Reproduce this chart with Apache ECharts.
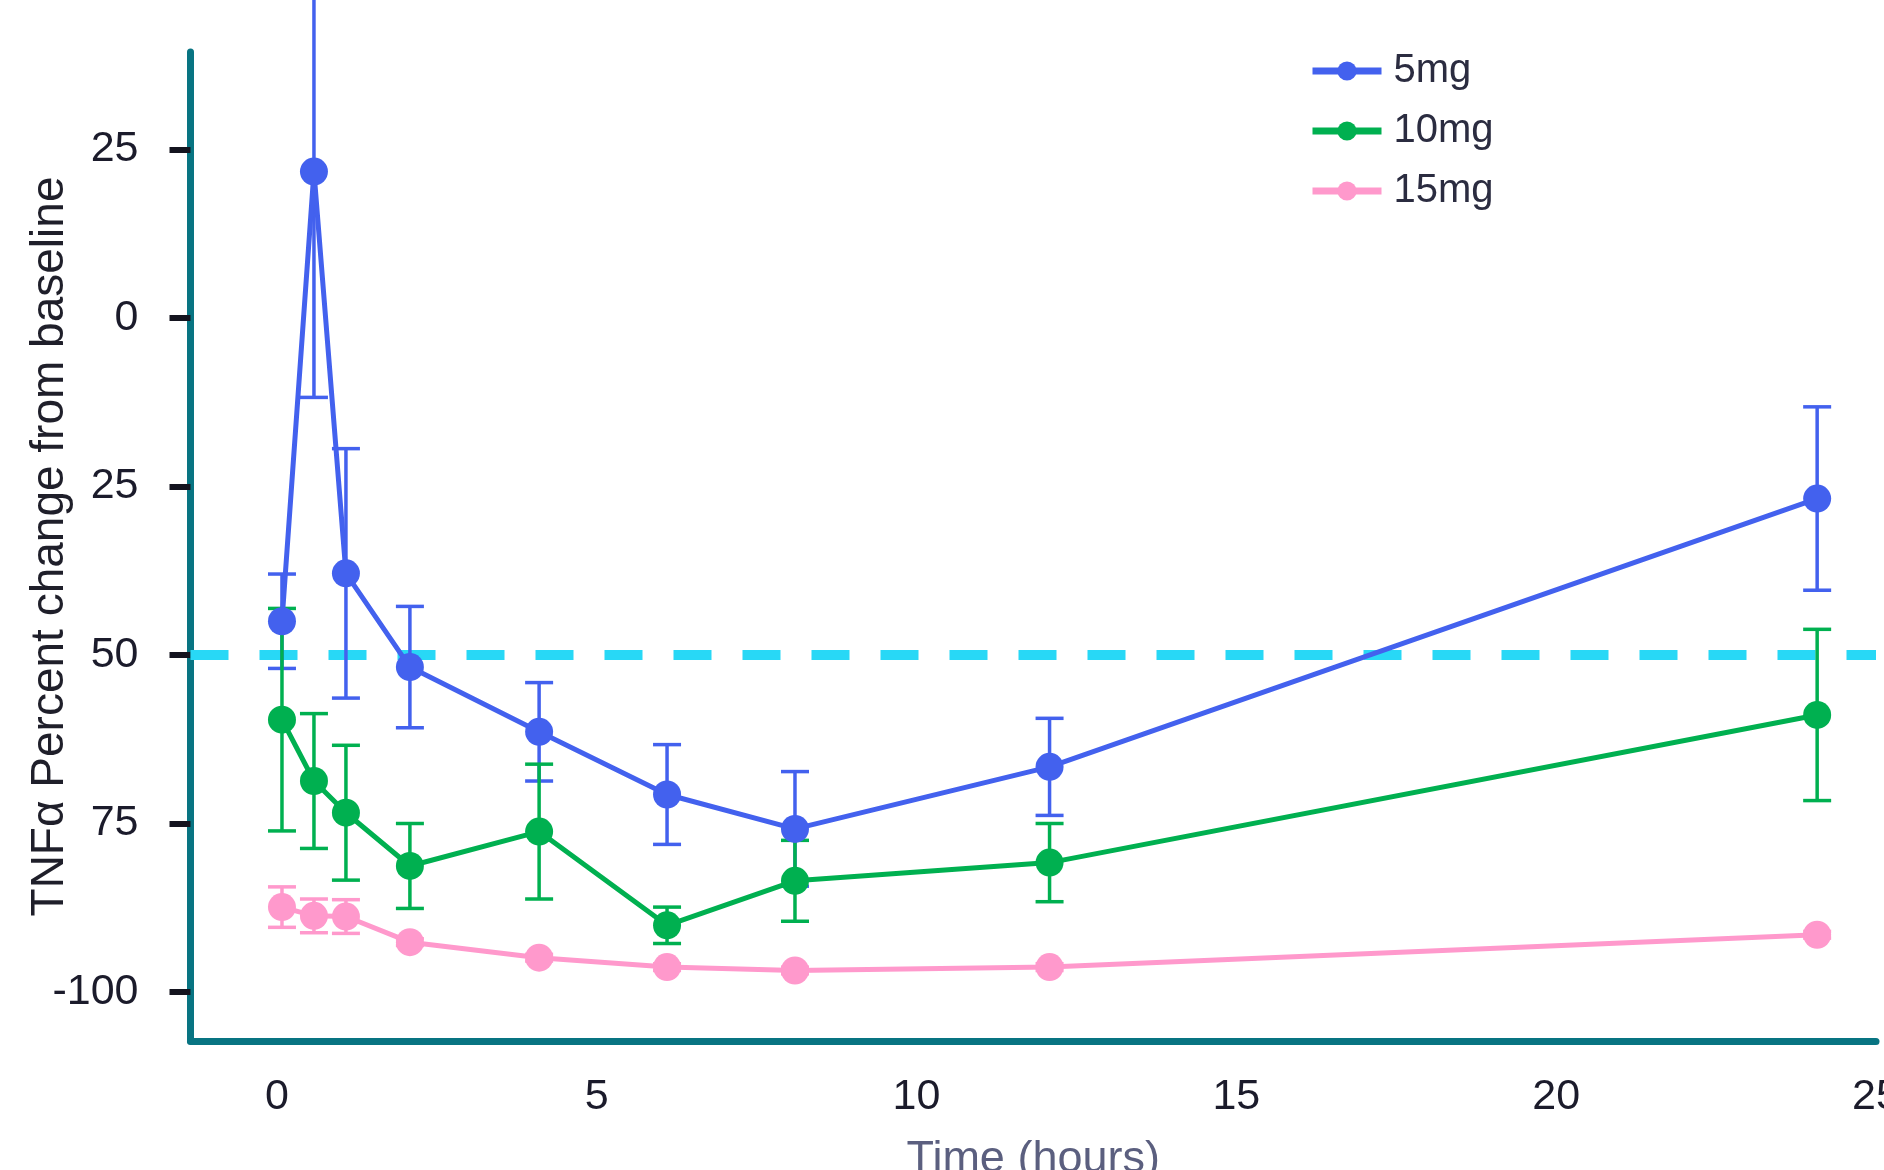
<!DOCTYPE html>
<html><head><meta charset="utf-8">
<script src="https://cdn.jsdelivr.net/npm/echarts@6/dist/echarts.min.js"></script>
<style>html,body{margin:0;padding:0;background:#fff}#chart{width:1884px;height:1170px}</style>
</head><body><div id="chart"></div>
<script>
// ---- data ----
const timesHours = [0.08, 0.58, 1.08, 2.08, 4.1, 6.1, 8.1, 12.08, 24.08];
const seriesNames = ['5mg', '10mg', '15mg'];
const mean5mg  = [-45.0, 21.7, -37.9, -51.8, -61.4, -70.7, -75.8, -66.6, -26.8];
const err5mg   = [7, 33.5, 18.5, 9, 7.3, 7.4, 8.5, 7.2, 13.6];
const mean10mg = [-59.6, -68.7, -73.4, -81.3, -76.2, -90.1, -83.5, -80.8, -58.9];
const err10mg  = [16.5, 10, 10, 6.3, 10, 2.7, 6, 5.8, 12.7];
const mean15mg = [-87.4, -88.7, -88.8, -92.6, -94.9, -96.3, -96.8, -96.3, -91.5];
const err15mg  = [3, 2.5, 2.5, 0.5, 0.5, 0.5, 0.5, 0.5, 0.5];
const thresholdValue = -50;
const xTickValues = [0, 5, 10, 15, 20, 25];
const yTickValues = [25, 0, -25, -50, -75, -100];
const yTickLabels = ['25', '0', '25', '50', '75', '-100'];
const xAxisTitle = 'Time (hours)';
const yAxisTitle = 'TNFα Percent change from baseline';

// ---- styling ----
const colors = ['#4361ee', '#00b050', '#ff99cc'];
const FONT = 'Liberation Sans, Arial, sans-serif';
const AXIS_COLOR = '#087482';

const means = [mean5mg, mean10mg, mean15mg];
const errs = [err5mg, err10mg, err15mg];

function errRenderer(color) {
  return function (params, api) {
    const x = api.value(0), lo = api.value(1), hi = api.value(2);
    const pLo = api.coord([x, lo]);
    const pHi = api.coord([x, hi]);
    const hw = 14;
    const style = { stroke: color, lineWidth: 3.5 };
    return {
      type: 'group',
      children: [
        { type: 'line', shape: { x1: pLo[0], y1: pLo[1], x2: pHi[0], y2: pHi[1] }, style: style },
        { type: 'line', shape: { x1: pLo[0] - hw, y1: pLo[1], x2: pLo[0] + hw, y2: pLo[1] }, style: style },
        { type: 'line', shape: { x1: pHi[0] - hw, y1: pHi[1], x2: pHi[0] + hw, y2: pHi[1] }, style: style }
      ]
    };
  };
}

const series = [];
seriesNames.forEach(function (name, i) {
  series.push({
    name: name + ' error',
    type: 'custom',
    renderItem: errRenderer(colors[i]),
    encode: { x: 0, y: [1, 2] },
    data: timesHours.map(function (t, k) { return [t, means[i][k] - errs[i][k], means[i][k] + errs[i][k]]; }),
    clip: false,
    z: 2,
    silent: true
  });
});
seriesNames.forEach(function (name, i) {
  const s = {
    name: name,
    type: 'line',
    data: timesHours.map(function (t, k) { return [t, means[i][k]]; }),
    symbol: 'circle',
    symbolSize: 28,
    showAllSymbol: true,
    itemStyle: { color: colors[i] },
    lineStyle: { color: colors[i], width: 5 },
    z: 3,
    animation: false
  };
  if (i === 0) {
    s.markLine = {
      silent: true,
      symbol: 'none',
      label: { show: false },
      lineStyle: { color: '#28d8f6', width: 10, type: [38, 31] },
      data: [{ yAxis: thresholdValue }],
      animation: false,
      z: 1
    };
  }
  series.push(s);
});

const chart = echarts.init(document.getElementById('chart'));
chart.setOption({
  animation: false,
  backgroundColor: '#ffffff',
  grid: { left: 190.5, right: 8, top: 52, bottom: 129, containLabel: false, outerBoundsMode: 'none' },
  legend: {
    data: seriesNames,
    orient: 'vertical',
    left: 1309,
    top: 51,
    padding: 0,
    itemWidth: 69,
    itemHeight: 24,
    itemGap: 20,
    lineStyle: { width: 7 },
    textStyle: { fontFamily: FONT, fontSize: 40, color: '#2b2c40', padding: [0, 0, 0, 7] }
  },
  xAxis: {
    type: 'value',
    min: -1.35,
    max: 25,
    name: xAxisTitle,
    nameLocation: 'middle',
    nameGap: 96,
    nameMoveOverlap: false,
    nameTextStyle: { fontFamily: FONT, fontSize: 45, color: '#5b5f7f' },
    axisLine: { show: true, onZero: false, lineStyle: { color: AXIS_COLOR, width: 7 } },
    axisTick: { show: false },
    splitLine: { show: false },
    axisLabel: {
      customValues: xTickValues,
      margin: 35,
      fontFamily: FONT,
      fontSize: 43,
      color: '#1b1b2b'
    }
  },
  yAxis: {
    type: 'value',
    min: -107.26,
    max: 39.43,
    name: yAxisTitle,
    nameLocation: 'middle',
    nameGap: 117,
    nameMoveOverlap: false,
    nameRotate: 90,
    nameTextStyle: { fontFamily: FONT, fontSize: 46, color: '#1f1f2a' },
    axisLine: { show: true, onZero: false, lineStyle: { color: AXIS_COLOR, width: 7 } },
    axisTick: { show: true, customValues: yTickValues, length: 21, inside: false, lineStyle: { color: '#14141f', width: 6 } },
    splitLine: { show: false },
    axisLabel: {
      customValues: yTickValues,
      margin: 52,
      fontFamily: FONT,
      fontSize: 43,
      color: '#1b1b2b',
      formatter: function (v) {
        const idx = yTickValues.indexOf(v);
        return idx >= 0 ? yTickLabels[idx] : '';
      }
    }
  },
  series: series
});
</script>
</body></html>
